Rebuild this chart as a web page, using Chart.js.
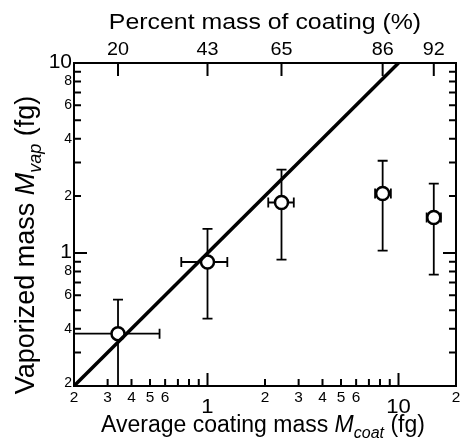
<!DOCTYPE html>
<html lang="en">
<head>
  <meta charset="UTF-8" />
  <title>Vaporized mass vs coating mass</title>
  <script src="https://cdn.jsdelivr.net/npm/chart.js"></script>
  <style>
    body { margin: 0; background: #fff; }
    #wrap { width: 465px; height: 444px; position: relative; }
  </style>
</head>
<body>
  <div id="wrap"><canvas id="chart"></canvas></div>

  <script>
    // data
    const coatMass = [0.34, 1.0, 2.44, 8.26, 15.3];        // M_coat (fg)
    const vapMass = [0.377, 0.898, 1.846, 2.06, 1.54];      // M_vap (fg)
    const coatLow = [0.12, 0.729, 2.08, 7.54, 14.04];
    const coatHigh = [0.561, 1.27, 2.83, 9.12, 16.68];
    const vapLow = [0.18, 0.452, 0.925, 1.03, 0.771];
    const vapHigh = [0.570, 1.34, 2.75, 3.06, 2.32];
    const percentLabels = ["20", "43", "65", "86", "92"];
    const fitX = [0.2, 10];
    const fitY = [0.2, 10];

    // tick labels
    const xSmallVals = [0.2, 0.3, 0.4, 0.5, 0.6, 2, 3, 4, 5, 6, 20];
    const xSmallText = ["2", "3", "4", "5", "6", "2", "3", "4", "5", "6", "2"];
    const xBigVals = [1, 10];
    const xBigText = ["1", "10"];
    const ySmallVals = [0.2, 0.4, 0.6, 0.8, 2, 4, 6, 8];
    const ySmallText = ["2", "4", "6", "8", "2", "4", "6", "8"];
    const yBigVals = [1, 10];
    const yBigText = ["1", "10"];

    const FONT = '"Liberation Sans", Arial, sans-serif';

    function minorTicks(min, max) {
      const out = [];
      for (let d = 0.1; d < max; d *= 10) {
        for (let k = 2; k <= 9; k++) {
          const v = +(k * d).toPrecision(3);
          if (v > min && v < max) out.push(v);
        }
      }
      return out;
    }

    // text with a slight horizontal stretch, like the original figure
    function textS(ctx, s, x, y, sx) {
      ctx.save();
      ctx.translate(x, y);
      ctx.scale(sx, 1);
      ctx.fillText(s, 0, 0);
      ctx.restore();
    }

    // a run of [text, font, dy] pieces
    function runWidth(ctx, parts) {
      let w = 0;
      parts.forEach(p => { ctx.font = p[1]; w += ctx.measureText(p[0]).width; });
      return w;
    }
    function drawRun(ctx, parts, x, y) {
      parts.forEach(p => {
        ctx.font = p[1];
        ctx.fillText(p[0], x, y + (p[2] || 0));
        x += ctx.measureText(p[0]).width;
      });
    }

    const errorBars = {
      id: "errorBars",
      beforeDatasetsDraw(chart) {
        const { ctx, chartArea: a, scales: { x, y } } = chart;
        ctx.save();
        ctx.beginPath();
        ctx.rect(a.left, a.top, a.right - a.left, a.bottom - a.top);
        ctx.clip();
        ctx.strokeStyle = "#000";
        ctx.lineWidth = 1.8;
        const cap = 5;
        coatMass.forEach((cx, i) => {
          const px = x.getPixelForValue(cx), py = y.getPixelForValue(vapMass[i]);
          const xl = x.getPixelForValue(coatLow[i]), xh = x.getPixelForValue(coatHigh[i]);
          const yl = y.getPixelForValue(vapLow[i]), yh = y.getPixelForValue(vapHigh[i]);
          ctx.beginPath();
          ctx.moveTo(xl, py); ctx.lineTo(xh, py);
          ctx.moveTo(xl, py - cap); ctx.lineTo(xl, py + cap);
          ctx.moveTo(xh, py - cap); ctx.lineTo(xh, py + cap);
          ctx.moveTo(px, yl); ctx.lineTo(px, yh);
          ctx.moveTo(px - cap, yl); ctx.lineTo(px + cap, yl);
          ctx.moveTo(px - cap, yh); ctx.lineTo(px + cap, yh);
          ctx.stroke();
        });
        ctx.restore();
      }
    };

    const frame = {
      id: "frame",
      afterDraw(chart) {
        const { ctx, chartArea: a, scales: { x, y } } = chart;
        ctx.save();
        ctx.strokeStyle = "#000";
        ctx.fillStyle = "#000";
        ctx.lineWidth = 2;
        ctx.strokeRect(a.left, a.top, a.right - a.left, a.bottom - a.top);

        const shortT = 7, longT = 13;
        ctx.beginPath();
        minorTicks(0.2, 20).forEach(v => {
          const px = x.getPixelForValue(v);
          ctx.moveTo(px, a.bottom); ctx.lineTo(px, a.bottom - shortT);
        });
        xBigVals.forEach(v => {
          const px = x.getPixelForValue(v);
          ctx.moveTo(px, a.bottom); ctx.lineTo(px, a.bottom - longT);
        });
        minorTicks(0.2, 10).forEach(v => {
          const py = y.getPixelForValue(v);
          ctx.moveTo(a.left, py); ctx.lineTo(a.left + shortT, py);
          ctx.moveTo(a.right, py); ctx.lineTo(a.right - shortT, py);
        });
        [1].forEach(v => {
          const py = y.getPixelForValue(v);
          ctx.moveTo(a.left, py); ctx.lineTo(a.left + longT, py);
          ctx.moveTo(a.right, py); ctx.lineTo(a.right - longT, py);
        });
        coatMass.forEach(v => {
          const px = x.getPixelForValue(v);
          ctx.moveTo(px, a.top); ctx.lineTo(px, a.top + longT);
        });
        ctx.stroke();

        // bottom tick labels
        ctx.textAlign = "center";
        ctx.textBaseline = "alphabetic";
        ctx.font = "14px " + FONT;
        xSmallVals.forEach((v, i) => textS(ctx, xSmallText[i], x.getPixelForValue(v), a.bottom + 16, 1.1));
        ctx.font = "21px " + FONT;
        xBigVals.forEach((v, i) => textS(ctx, xBigText[i], x.getPixelForValue(v), a.bottom + 27, 1.05));

        // top percent labels
        ctx.font = "18px " + FONT;
        coatMass.forEach((v, i) => textS(ctx, percentLabels[i], x.getPixelForValue(v), a.top - 8, 1.1));

        // left tick labels
        ctx.textAlign = "right";
        ctx.textBaseline = "middle";
        ctx.font = "14px " + FONT;
        ySmallVals.forEach((v, i) => {
          let py = y.getPixelForValue(v);
          if (v === 0.2) py -= 3;
          ctx.fillText(ySmallText[i], a.left - 2, py);
        });
        ctx.font = "21px " + FONT;
        yBigVals.forEach((v, i) => ctx.fillText(yBigText[i], a.left - 2, y.getPixelForValue(v) - 1));

        // axis titles
        ctx.textAlign = "left";
        ctx.textBaseline = "alphabetic";
        ctx.font = "22px " + FONT;
        ctx.save();
        ctx.translate((a.left + a.right) / 2, 29);
        ctx.scale(1.13, 1);
        ctx.textAlign = "center";
        ctx.fillText("Percent mass of coating (%)", 0, 0);
        ctx.restore();

        const xb = "23px " + FONT;
        const xt = [["Average coating mass ", xb], ["M", "italic " + xb], ["coat", "italic 16px " + FONT, 6], [" (fg)", xb]];
        drawRun(ctx, xt, (a.left + a.right) / 2 - 2 - runWidth(ctx, xt) / 2, 432);

        const yb = "27px " + FONT;
        const yt = [["Vaporized mass ", yb], ["M", "italic " + yb], ["vap", "italic 18px " + FONT, 7], [" (fg)", yb]];
        ctx.translate(34, 245);
        ctx.rotate(-Math.PI / 2);
        drawRun(ctx, yt, -runWidth(ctx, yt) / 2, 0);
        ctx.restore();
      }
    };

    new Chart(document.getElementById("chart"), {
      type: "scatter",
      data: {
        datasets: [
          {
            data: fitX.map((v, i) => ({ x: v, y: fitY[i] })),
            showLine: true,
            borderColor: "#000",
            borderWidth: 3.5,
            pointRadius: 0
          },
          {
            data: coatMass.map((v, i) => ({ x: v, y: vapMass[i] })),
            pointRadius: 6.5,
            pointBorderWidth: 2.5,
            pointBackgroundColor: "#fff",
            pointBorderColor: "#000"
          }
        ]
      },
      options: {
        responsive: true,
        maintainAspectRatio: false,
        animation: false,
        layout: { padding: { left: 74, right: 4, top: 63, bottom: 58 } },
        plugins: { legend: { display: false }, tooltip: { enabled: false } },
        scales: {
          x: { type: "logarithmic", min: 0.2, max: 20, display: false },
          y: { type: "logarithmic", min: 0.2, max: 10, display: false }
        }
      },
      plugins: [errorBars, frame]
    });
  </script>
</body>
</html>
